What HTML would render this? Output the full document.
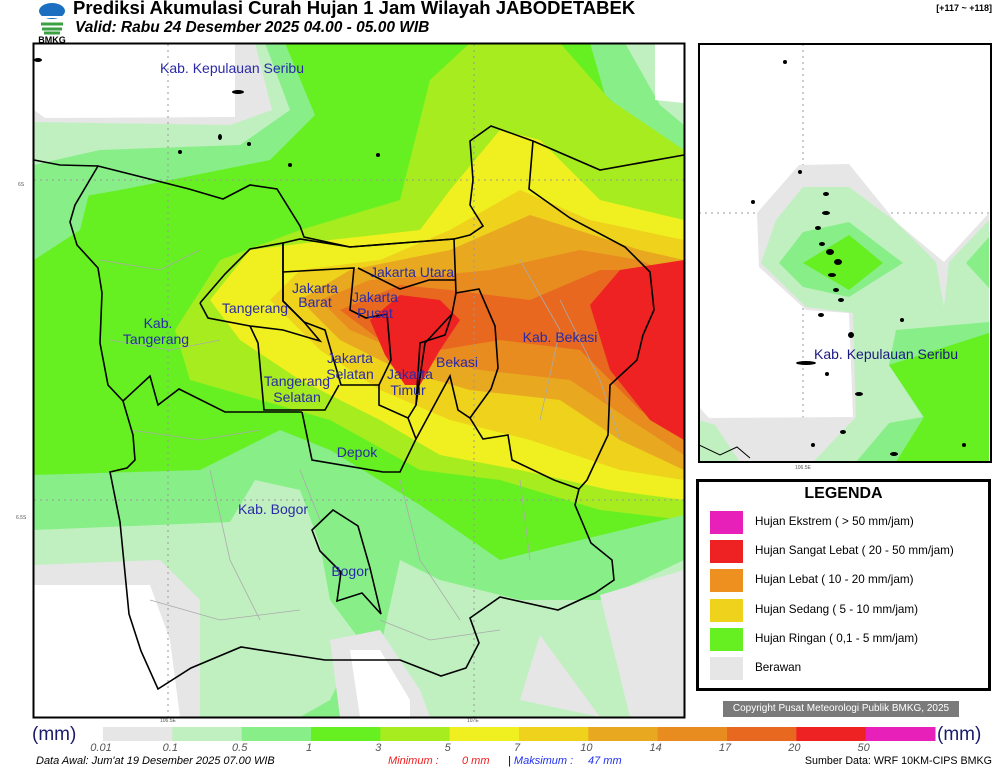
<!DOCTYPE html>
<html><head><meta charset="utf-8">
<style>
body{margin:0;width:1000px;height:769px;background:#fff;position:relative;overflow:hidden;font-family:"Liberation Sans",sans-serif}
.t{position:absolute;white-space:nowrap}
.lab{font-size:14px;fill:#2a2aa8;font-family:"Liberation Sans",sans-serif;text-anchor:middle}
</style></head><body>
<svg style="position:absolute;left:34px;top:2px" width="36" height="42">
<ellipse cx="18" cy="9" rx="13" ry="8" fill="#1c6fc0"/><path d="M6 15 h24" stroke="#fff" stroke-width="2"/>
<path d="M7 22 h22 M8 27 h20 M10 31 h16" stroke="#3aa040" stroke-width="3"/>
<text x="18" y="41" font-size="9" font-weight="bold" text-anchor="middle" font-family="Liberation Sans">BMKG</text></svg>
<div class="t" style="left:73px;top:-3px;font-size:18.5px;font-weight:bold">Prediksi Akumulasi Curah Hujan 1 Jam Wilayah JABODETABEK</div>
<div class="t" style="left:75px;top:19px;font-size:15.5px;font-weight:bold;font-style:italic">Valid: Rabu 24 Desember 2025 04.00 - 05.00 WIB</div>
<div class="t" style="right:8px;top:3px;font-size:9px;font-weight:bold">[+117 ~ +118]</div>

<svg style="position:absolute;left:0;top:0" width="1000" height="769">
<defs><clipPath id="mc"><rect x="34" y="44" width="650" height="673"/></clipPath>
<clipPath id="ic"><rect x="699" y="44" width="292" height="418"/></clipPath></defs>
<g clip-path="url(#mc)">
<rect x="34" y="44" width="650" height="673" fill="#66f022"/>
<polygon fill="#88ee88" points="34,43 285,43 315,115 270,160 120,190 34,205"/>
<polygon fill="#c0f0c0" points="34,43 265,43 290,110 240,145 100,150 34,165"/>
<polygon fill="#e6e6e6" points="34,43 255,43 272,110 230,125 34,122"/>
<polygon fill="#fff" points="34,43 235,43 235,117 45,118 34,110"/>
<polygon fill="#88ee88" points="34,165 100,150 80,230 34,260"/>
<polygon fill="#88ee88" points="590,43 684,43 684,160 650,135 605,95"/>
<polygon fill="#c0f0c0" points="625,43 684,43 684,125 660,105"/>
<polygon fill="#fff" points="655,43 684,43 684,103 655,100"/>
<polygon fill="#a6ec1e" points="175,330 220,260 300,230 400,200 430,80 470,43 560,43 610,100 684,150 684,520 600,510 500,480 420,470 330,420 260,400 190,380"/>
<polygon fill="#f0f020" points="210,300 250,250 330,240 420,230 450,190 500,130 540,140 600,200 684,220 684,500 610,490 520,470 440,455 380,420 300,380 240,340"/>
<polygon fill="#eed21c" points="270,300 300,270 380,260 450,230 520,190 590,220 684,240 684,480 620,470 530,440 450,420 380,390 320,350"/>
<polygon fill="#e8a820" points="300,300 350,270 450,250 530,215 640,250 684,260 684,470 620,440 560,400 470,390 400,370 340,340"/>
<polygon fill="#e88c20" points="320,300 370,280 440,275 490,270 580,250 640,260 684,280 684,455 630,420 570,380 480,370 410,355 350,330"/>
<polygon fill="#e86820" points="340,310 400,285 450,290 530,300 600,270 684,270 684,440 640,410 580,350 500,340 440,350 380,340"/>
<polygon fill="#ee2222" points="370,320 400,295 440,300 460,320 440,350 420,385 405,385 385,355"/>
<polygon fill="#ee2222" points="590,305 620,270 684,260 684,440 650,420 610,370"/>
<polygon fill="#88ee88" points="34,475 200,470 280,430 330,450 420,505 500,560 560,545 684,515 684,717 34,717"/>
<polygon fill="#c0f0c0" points="34,530 230,522 255,480 300,490 320,545 330,600 360,640 330,700 300,717 34,717"/>
<polygon fill="#c0f0c0" points="400,560 440,580 520,600 600,600 684,560 684,717 360,717 380,650"/>
<polygon fill="#e6e6e6" points="34,565 160,560 200,600 200,717 34,717"/>
<polygon fill="#fff" points="34,585 150,585 170,640 180,717 34,717"/>
<polygon fill="#e6e6e6" points="600,595 684,570 684,717 630,717"/>
<polygon fill="#e6e6e6" points="330,640 380,630 420,690 430,717 340,717"/>
<polygon fill="#fff" points="350,650 380,650 410,700 410,717 360,717"/>
<polygon fill="#e6e6e6" points="520,700 540,635 600,717"/>
</g>
<g stroke="#999" stroke-dasharray="2,4">
<line x1="168" y1="44" x2="168" y2="717"/><line x1="474" y1="44" x2="474" y2="717"/>
<line x1="34" y1="180" x2="684" y2="180"/><line x1="34" y1="500" x2="684" y2="500"/>
<line x1="803" y1="44" x2="803" y2="462"/><line x1="699" y1="213" x2="991" y2="213"/></g>
<g fill="none" stroke="#aaa" stroke-width="0.8">
<path d="M100,260 L160,270 L200,250 M110,340 L170,350 L220,340 M130,430 L200,440 L260,430 M210,470 L230,560 L260,620 M300,470 L320,520 M400,480 L420,560 L460,620 M520,480 L530,560 M560,300 L600,380 L620,440 M520,260 L560,330 L540,420 M150,600 L220,620 L300,610 M380,620 L430,640 L500,630"/>
</g>
<g fill="none" stroke="#000" stroke-width="1.6">
<polygon points="70,222 75,205 98,166 189,189 223,199 250,185 277,189 300,226 304,237 350,247 400,243 454,239 470,235 483,226 470,205 473,180 470,141 491,126 533,141 529,189 570,218 625,247 650,272 654,310 643,335 637,360 610,385 608,435 587,480 579,489 575,505 591,543 612,560 614,580 595,593 558,610 500,597 470,618 479,643 466,668 441,676 400,660 325,660 241,647 191,668 158,689 141,651 129,614 120,522 110,472 127,468 135,460 133,435 123,401 108,385 100,343 102,293 98,268 77,245"/>
<polyline points="283,243 300,239 350,247 454,239 456,293 452,314 425,343 416,405 408,418 379,405 379,385 341,385 325,330 304,322 283,301 283,243"/>
<polyline points="200,303 225,274 250,249 283,243 283,301 304,322 320,341 283,330 250,326 208,318 200,303"/>
<polyline points="250,326 258,343 264,410 325,410 339,385"/>
<polyline points="123,401 150,376 158,405 179,389 225,412 264,412 302,412"/>
<polyline points="302,412 312,460 383,472 400,472 416,439 408,418"/>
<polyline points="456,293 479,289 495,326 498,368 491,389 470,418 458,410 450,376 416,439"/>
<polyline points="470,418 483,439 508,435 512,460 554,480 579,489"/>
<polygon points="312,530 333,510 358,526 370,568 381,614 362,593 337,601 341,572 320,551"/>
<polyline points="387,314 391,360 379,385"/><polyline points="452,314 445,335 420,343 416,405"/>
<polyline points="358,268 400,289 429,280 456,280"/><polyline points="283,272 354,268 350,310 366,318 387,314"/>
<polyline points="34,160 60,165 98,166"/><polyline points="533,141 600,170 684,155"/>
</g>
<g fill="#000">
<ellipse cx="238" cy="92" rx="6" ry="2"/><ellipse cx="220" cy="137" rx="2" ry="3"/><ellipse cx="249" cy="144" rx="2" ry="2"/><ellipse cx="180" cy="152" rx="2" ry="2"/><ellipse cx="378" cy="155" rx="2" ry="2"/><ellipse cx="290" cy="165" rx="2" ry="2"/><ellipse cx="38" cy="60" rx="4" ry="2"/>
</g>
<g>
<text class="lab" x="232" y="73">Kab. Kepulauan Seribu</text>
<text class="lab" x="158" y="328">Kab.</text><text class="lab" x="156" y="344">Tangerang</text>
<text class="lab" x="255" y="313">Tangerang</text>
<text class="lab" x="315" y="293">Jakarta</text><text class="lab" x="315" y="307">Barat</text>
<text class="lab" x="412" y="277">Jakarta Utara</text>
<text class="lab" x="375" y="302">Jakarta</text><text class="lab" x="375" y="318">Pusat</text>
<text class="lab" x="350" y="363">Jakarta</text><text class="lab" x="350" y="379">Selatan</text>
<text class="lab" x="410" y="379">Jakarta</text><text class="lab" x="408" y="395">Timur</text>
<text class="lab" x="457" y="367">Bekasi</text>
<text class="lab" x="560" y="342">Kab. Bekasi</text>
<text class="lab" x="297" y="386">Tangerang</text><text class="lab" x="297" y="402">Selatan</text>
<text class="lab" x="357" y="457">Depok</text>
<text class="lab" x="273" y="514">Kab. Bogor</text>
<text class="lab" x="350" y="576">Bogor</text>
</g>
<g font-size="5" fill="#555" font-family="Liberation Sans">
<text x="18" y="186">6S</text><text x="16" y="519">6.5S</text><text x="160" y="722">106.5E</text><text x="467" y="722">107E</text><text x="795" y="469">106.5E</text></g>
<rect x="33.5" y="43.5" width="651" height="674" fill="none" stroke="#000" stroke-width="2"/>

<g clip-path="url(#ic)">
<polygon fill="#e6e6e6" points="757,213 799,165 849,164 896,222 944,262 989,213 989,462 699,462 699,407 709,418 853,417 849,313 806,310 759,267"/>
<polygon fill="#c0f0c0" points="761,263 776,220 803,187 849,187 896,222 936,262 944,307 949,262 989,220 989,462 813,462 856,417 853,313 806,307"/>
<polygon fill="#c0f0c0" points="699,420 715,425 740,462 699,462"/>
<polygon fill="#88ee88" points="779,263 803,232 849,222 903,263 849,297 803,287"/>
<polygon fill="#88ee88" points="896,330 989,322 989,462 856,462 889,423 923,417 889,365"/>
<polygon fill="#88ee88" points="966,263 989,237 989,288"/>
<polygon fill="#66f022" points="803,263 849,235 883,263 849,290"/>
<polygon fill="#66f022" points="889,365 989,333 989,462 896,462 924,417"/>
<g fill="#000"><ellipse cx="785" cy="62" rx="2" ry="2"/><ellipse cx="800" cy="172" rx="2" ry="2"/><ellipse cx="753" cy="202" rx="2" ry="2"/><ellipse cx="826" cy="194" rx="3" ry="2"/><ellipse cx="826" cy="213" rx="4" ry="2"/><ellipse cx="818" cy="228" rx="3" ry="2"/><ellipse cx="830" cy="252" rx="4" ry="3"/><ellipse cx="838" cy="262" rx="4" ry="3"/><ellipse cx="832" cy="275" rx="4" ry="2"/><ellipse cx="836" cy="290" rx="3" ry="2"/><ellipse cx="841" cy="300" rx="3" ry="2"/><ellipse cx="822" cy="244" rx="3" ry="2"/><ellipse cx="821" cy="315" rx="3" ry="2"/><ellipse cx="851" cy="335" rx="3" ry="3"/><ellipse cx="806" cy="363" rx="10" ry="2"/><ellipse cx="827" cy="374" rx="2" ry="2"/><ellipse cx="859" cy="394" rx="4" ry="2"/><ellipse cx="843" cy="432" rx="3" ry="2"/><ellipse cx="813" cy="445" rx="2" ry="2"/><ellipse cx="894" cy="454" rx="4" ry="2"/><ellipse cx="964" cy="445" rx="2" ry="2"/><ellipse cx="902" cy="320" rx="2" ry="2"/></g>
<path d="M699,445 L720,455 L737,447 L750,458" fill="none" stroke="#000" stroke-width="1"/>
</g>
<text class="lab" x="886" y="359" style="fill:#1a1a80">Kab. Kepulauan Seribu</text>
<rect x="699" y="44" width="292" height="418" fill="none" stroke="#000" stroke-width="2"/>
</svg>

<div style="position:absolute;left:696px;top:479px;width:289px;height:206px;border:3px solid #000;background:#fff">
<div class="t" style="left:0;width:289px;text-align:center;top:3px;font-size:16px;font-weight:bold">LEGENDA</div>
</div>
<div id="legend-items"></div>
<div class="t" style="left:723px;top:701px;width:236px;height:16px;background:#7a7a7a;color:#fff;font-size:10px;line-height:16px;text-align:center">Copyright Pusat Meteorologi Publik BMKG, 2025</div>

<svg id="cbar" style="position:absolute;left:0;top:720px" width="1000" height="35"></svg>
<div class="t" style="left:32px;top:724px;font-size:19px;color:#1a1a6a">(mm)</div>
<div class="t" style="left:937px;top:724px;font-size:19px;color:#1a1a6a">(mm)</div>

<div class="t" style="left:36px;top:755px;font-size:11px;font-style:italic">Data Awal: Jum'at 19 Desember 2025 07.00 WIB</div>
<div class="t" style="left:388px;top:755px;font-size:11px;font-style:italic;color:#f02020">Minimum :</div>
<div class="t" style="left:462px;top:755px;font-size:11px;font-style:italic;color:#f02020">0 mm</div>
<div class="t" style="left:508px;top:755px;font-size:11px;font-style:italic;color:#2030f0"><span style="color:#000">|</span> Maksimum :</div>
<div class="t" style="left:588px;top:755px;font-size:11px;font-style:italic;color:#2030f0">47 mm</div>
<div class="t" style="right:8px;top:755px;font-size:10.7px">Sumber Data: WRF 10KM-CIPS BMKG</div>

<script>
const barColors=["#e6e6e6","#c0f0c0","#88ee88","#66f022","#a6ec1e","#f0f020","#eed21c","#e8a820","#e88c20","#e86820","#ee2222","#e620b8"];
const tickLabels=["0.01","0.1","0.5","1","3","5","7","10","14","17","20","50"];
const legendLabels=["Hujan Ekstrem ( > 50 mm/jam)","Hujan Sangat Lebat ( 20 - 50 mm/jam)","Hujan Lebat ( 10 - 20 mm/jam)","Hujan Sedang ( 5 - 10 mm/jam)","Hujan Ringan ( 0,1 - 5 mm/jam)","Berawan"];
const legendColors=["#e620b8","#ee2222","#ee9020","#eed21c","#66f022","#e6e6e6"];
const NS="http://www.w3.org/2000/svg";
const cb=document.getElementById('cbar');
const x0=103,x1=935,segW=(x1-x0)/barColors.length;
const xPos=i=>x0+i*segW;
barColors.forEach((c,i)=>{
 const r=document.createElementNS(NS,'rect');
 r.setAttribute('x',xPos(i));r.setAttribute('y',7);r.setAttribute('width',segW+0.5);r.setAttribute('height',14);r.setAttribute('fill',c);
 
 
 cb.appendChild(r);
});
tickLabels.forEach((l,i)=>{
 const t=document.createElementNS(NS,'text');
 t.setAttribute('x',xPos(i)-2);t.setAttribute('y',31);t.setAttribute('text-anchor','middle');
 t.setAttribute('font-size','11');t.setAttribute('font-style','italic');t.setAttribute('fill','#555');t.setAttribute('font-family','Liberation Sans');
 t.textContent=l;
 
 
 cb.appendChild(t);
});
const li=document.getElementById('legend-items');
legendLabels.forEach((l,i)=>{
 const y=511+i*29.2;
 const s=document.createElement('div');
 s.style.cssText=`position:absolute;left:710px;top:${y}px;width:33px;height:23px;background:${legendColors[i]}`;
 
 
 li.appendChild(s);
 const t=document.createElement('div');
 t.className='t';t.style.cssText=`left:755px;top:${y+4}px;font-size:11.7px`;
 t.textContent=l;
 
 
 li.appendChild(t);
});
</script>
</body></html>
